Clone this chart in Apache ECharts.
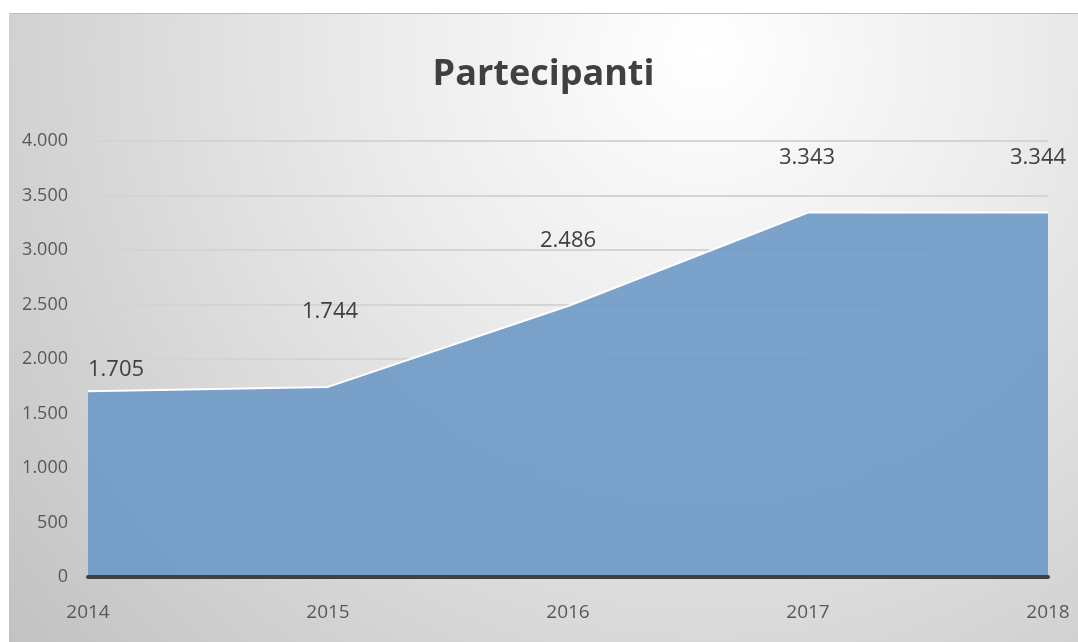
<!DOCTYPE html>
<html>
<head>
<meta charset="utf-8">
<script src="https://cdn.jsdelivr.net/npm/echarts@6/dist/echarts.min.js"></script>
<style>
  html, body { margin: 0; padding: 0; background: #ffffff; }
  #chart { position: absolute; left: 9px; top: 13px; width: 1069px; height: 629px; border-top: 1px solid #bdbdbd; box-sizing: border-box; }
</style>
</head>
<body>
<div id="chart"></div>
<script>
var years = ['2014', '2015', '2016', '2017', '2018'];
var partecipanti = [1705, 1744, 2486, 3343, 3344];
// where each value label sits, relative to its point (as placed in the original)
var labelOffsets = [[28, -21], [2, -75], [0, -65], [-1, -55], [-10, -55]];

function fmt(v) {
  return String(v).replace(/\B(?=(\d{3})+(?!\d))/g, '.');
}

var font = '"Open Sans", "Noto Sans", sans-serif';

var myChart = echarts.init(document.getElementById('chart'));
var seriesData = partecipanti.map(function (v, i) {
  return { value: v, label: { offset: labelOffsets[i] } };
});

var option = {
  backgroundColor: {
    type: 'radial', x: 0.65, y: 0.06, r: 1.45,
    colorStops: [
      { offset: 0, color: '#ffffff' },
      { offset: 0.35, color: '#ececec' },
      { offset: 1, color: '#c2c2c2' }
    ]
  },
  title: {
    text: 'Partecipanti',
    left: 'center',
    top: 38,
    textStyle: { fontFamily: font, fontSize: 36, fontWeight: 'bold', color: '#404040' }
  },
  grid: { left: 79, right: 30, top: 127, bottom: 65 },
  xAxis: {
    type: 'category',
    data: years,
    boundaryGap: false,
    axisTick: { show: false },
    axisLine: { lineStyle: { color: '#404040', width: 4 } },
    axisLabel: { fontFamily: font, fontSize: 19, color: '#595959', margin: 26 },
    z: 5
  },
  yAxis: {
    type: 'value',
    min: 0, max: 4000, interval: 500,
    axisLine: { show: false },
    axisTick: { show: false },
    splitLine: { lineStyle: { color: '#d4d4d4', width: 2 } },
    axisLabel: { fontFamily: font, fontSize: 18, color: '#595959', margin: 20, formatter: fmt }
  },
  series: [{
    name: 'Partecipanti',
    type: 'line',
    data: seriesData,
    symbol: 'circle',
    symbolSize: 0.1,
    itemStyle: { color: '#7aa0ca' },
    lineStyle: { color: '#ffffff', width: 2 },
    areaStyle: {
      opacity: 1,
      color: 'rgba(110,153,199,0.9)'
    },
    label: {
      show: true,
      position: 'inside',
      fontFamily: font,
      fontSize: 22,
      color: '#404040',
      formatter: function (p) { return fmt(p.value); }
    }
  }]
};
myChart.setOption(option);
</script>
</body>
</html>
